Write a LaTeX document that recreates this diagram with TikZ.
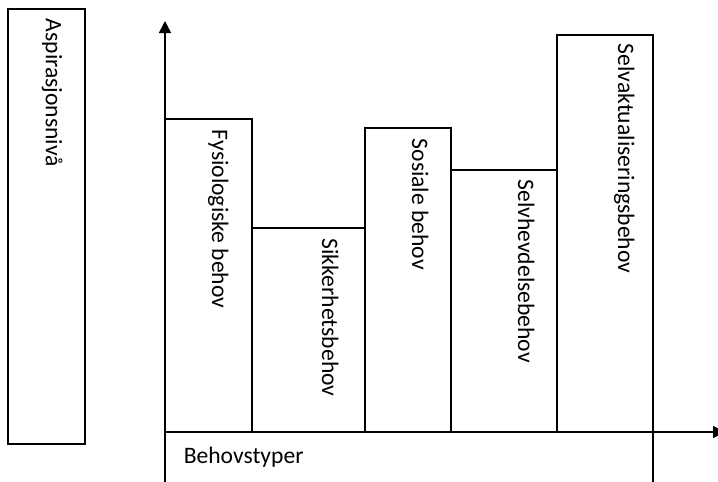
\documentclass[tikz,border=0pt]{standalone}
\usepackage{fontspec}
\setmainfont{Carlito}
\usetikzlibrary{arrows.meta}

\begin{document}
\begin{tikzpicture}[x=0.5pt, y=-0.5pt, line width=0.75pt,
  font=\fontsize{11.8}{14}\selectfont,
  vlabel/.style={rotate=-90, anchor=base west, inner sep=0pt},
  axis/.style={-{Triangle[length=6pt, width=6pt]}}]

  \useasboundingbox (0,0) rectangle (718,482);

  % coordinates
  \coordinate (O) at (165,432);
  \coordinate (Ytip) at (165,21);
  \coordinate (Xtip) at (725,432);

  % aspiration level box
  \draw (8,9) rectangle (85,444);
  \node[vlabel] (asp) at (46,18) {Aspirasjonsnivå};

  % bars: left/right/top/label x/label y/name/text
  \foreach \l/\r/\t/\lx/\ly/\n/\txt in {
      165/252/119/212/129/fys/Fysiologiske behov,
      252/365/228/322/238/sik/Sikkerhetsbehov,
      365/451/128/412/138/sos/Sosiale behov,
      451/557/170/518/179/svh/Selvhevdelsebehov,
      557/653/35/618/43/sva/Selvaktualiseringsbehov}
  {
    \draw (\l,432) rectangle (\r,\t);
    \node[vlabel] (\n) at (\lx,\ly) {\txt};
  }

  % axes
  \draw[axis] (O) -- (Ytip);
  \draw[axis] (O) -- (Xtip);

  % need types box
  \draw (165,432) rectangle (653,500);
  \node[anchor=base west, inner sep=0pt] (typ) at (183,463) {Behovstyper};
\end{tikzpicture}
\end{document}
